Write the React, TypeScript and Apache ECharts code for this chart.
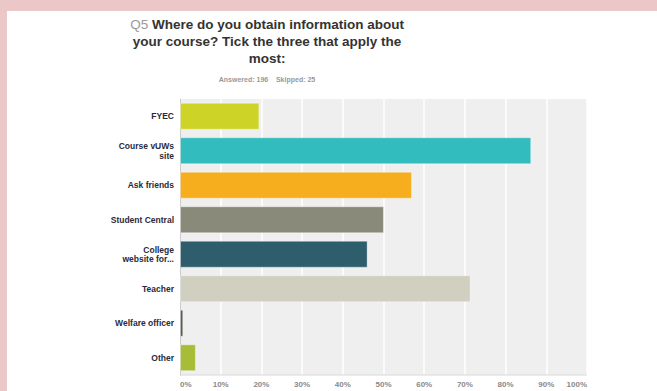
import React, { useEffect, useRef } from "react";
import * as echarts from "echarts";

const categories = [
  "FYEC",
  "Course vUWs\nsite",
  "Ask friends",
  "Student Central",
  "College\nwebsite for...",
  "Teacher",
  "Welfare officer",
  "Other",
];
const values = [19.5, 86.3, 57.0, 50.1, 46.1, 71.4, 0.8, 3.9];
const barColors = [
  "#cdd427",
  "#33bcbd",
  "#f6ae1f",
  "#8a8a7a",
  "#2e5e6b",
  "#d0cfc0",
  "#5b5b50",
  "#a8bd37",
];
const titleLines = [
  "{q|Q5} Where do you obtain information about",
  "your course? Tick the three that apply the",
  "most:",
];
const subtitleText = "Answered: 196    Skipped: 25";

export default function App() {
  const ref = useRef<HTMLDivElement>(null);
  useEffect(() => {
    if (!ref.current) return;
    const chart = echarts.init(ref.current, null, { renderer: "svg" });
    chart.setOption({
      animation: false,
      backgroundColor: "transparent",
      title: [
        {
          text: titleLines.join("\n"),
          left: 267,
          top: 16,
          padding: 0,
          textAlign: "center",
          textStyle: {
            fontFamily: "Liberation Sans, Arial, sans-serif",
            fontSize: 13.5,
            fontWeight: "bold",
            color: "#333",
            lineHeight: 17,
            rich: {
              q: {
                fontFamily: "Liberation Sans, Arial, sans-serif",
                fontSize: 13.5,
                fontWeight: "normal",
                color: "#999",
                lineHeight: 17,
              },
            },
          },
        },
        {
          text: subtitleText,
          left: 267,
          top: 76,
          padding: 0,
          textAlign: "center",
          textStyle: {
            fontFamily: "Liberation Sans, Arial, sans-serif",
            fontSize: 7,
            fontWeight: "bold",
            color: "#999",
          },
        },
      ],
      grid: {
        left: 180,
        top: 99,
        width: 407,
        height: 276,
        show: true,
        backgroundColor: "#efefef",
        borderWidth: 0,
        containLabel: false,
      },
      xAxis: {
        type: "value",
        min: 0,
        max: 100,
        interval: 10,
        axisLine: { show: false },
        axisTick: { show: false },
        splitLine: { show: true, lineStyle: { color: "#ffffff", width: 1.5 } },
        axisLabel: {
          formatter: "{value}%",
          fontFamily: "Liberation Sans, Arial, sans-serif",
          fontSize: 8,
          fontWeight: "bold",
          color: "#8a8a8a",
          margin: 5,
          alignMinLabel: "left",
          alignMaxLabel: "right",
        },
      },
      yAxis: {
        type: "category",
        data: categories,
        inverse: true,
        axisLine: { show: true, lineStyle: { color: "#cccccc", width: 1 } },
        axisTick: { show: false },
        axisLabel: {
          fontFamily: "Liberation Sans, Arial, sans-serif",
          fontSize: 8.5,
          fontWeight: "bold",
          color: "#2a2a3a",
          margin: 6,
          lineHeight: 9.5,
          align: "right",
        },
      },
      graphic: [
        {
          type: "line",
          shape: { x1: 180, y1: 375, x2: 587, y2: 375 },
          style: { stroke: "#d8d8d8", lineWidth: 1 },
          z: 10,
        },
      ],
      series: [
        {
          type: "bar",
          barCategoryGap: "22%",
          data: values.map((v, i) => ({
            value: v,
            itemStyle: {
              color: barColors[i],
              borderColor: "rgba(255,255,255,0.35)",
              borderWidth: 1,
            },
          })),
        },
      ],
    });
    return () => chart.dispose();
  }, []);

  return (
    <div
      style={{
        position: "fixed",
        left: 0,
        top: 0,
        width: 657,
        height: 391,
        background: "#ebc7c7",
        overflow: "hidden",
      }}
    >
      <div
        style={{
          position: "absolute",
          left: 7,
          top: 11,
          width: 650,
          height: 380,
          background: "#ffffff",
        }}
      />
      <div
        ref={ref}
        style={{ position: "absolute", left: 0, top: 0, width: 657, height: 391 }}
      />
    </div>
  );
}
